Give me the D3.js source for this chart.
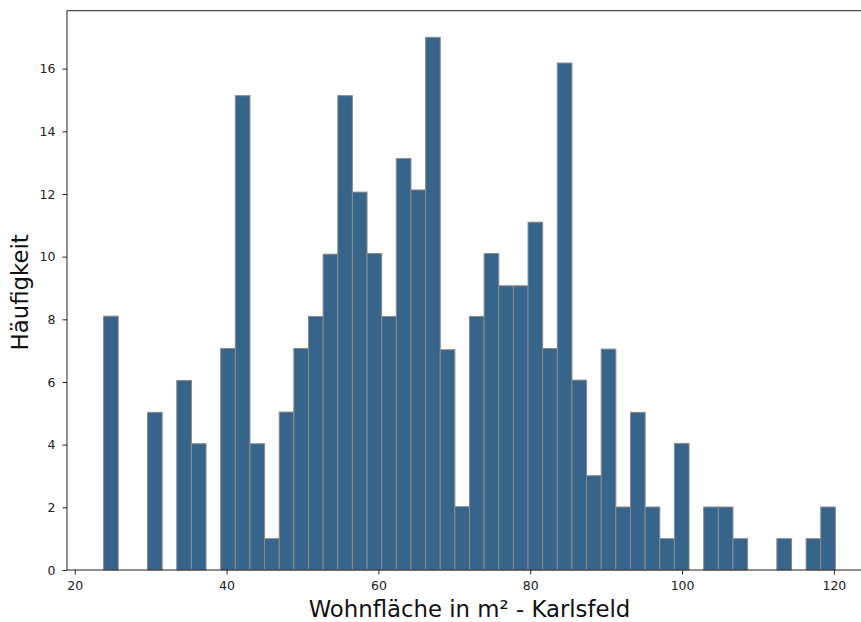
<!DOCTYPE html>
<html>
<head>
<meta charset="utf-8">
<script src="https://cdn.jsdelivr.net/npm/d3@7"></script>
<style>
  html, body { margin: 0; padding: 0; background: #fff; }
  svg { display: block; font-family: "DejaVu Sans", sans-serif; }
</style>
</head>
<body>
<svg id="chart" width="861" height="622"></svg>
<script>
// Histogram of living area (m²) in Karlsfeld: 50 equal-width bins
const binStart = 23.8;
const binEnd = 120.2;
const counts = [
  8.1, 0, 0, 5.03, 0, 6.05, 4.03, 0, 7.07, 15.14,
  4.03, 1, 5.04, 7.07, 8.09, 10.08, 15.14, 12.06, 10.1, 8.09,
  13.13, 12.13, 17, 7.03, 2.02, 8.09, 10.1, 9.07, 9.07, 11.1,
  7.07, 16.18, 6.06, 3.01, 7.05, 2.01, 5.03, 2.01, 1, 4.04,
  0, 2.01, 2.01, 1, 0, 0, 1, 0, 1, 2.01
];
const xTicks = [20, 40, 60, 80, 100, 120];
const yTicks = [0, 2, 4, 6, 8, 10, 12, 14, 16];
const xLabel = "Wohnfläche in m² - Karlsfeld";
const yLabel = "Häufigkeit";

const nBins = counts.length;
const binW = (binEnd - binStart) / nBins;
const bins = counts.map((c, i) => ({ x0: binStart + i * binW, x1: binStart + (i + 1) * binW, n: c }));

const pad = (binEnd - binStart) * 0.05;
const plotLeft = 67, plotTop = 10.7, plotBottom = 570;
const plotRight = plotLeft + 805;

const x = d3.scaleLinear().domain([binStart - pad, binEnd + pad]).range([plotLeft, plotRight]);
const yMax = d3.max(counts) * 1.05;
const y = d3.scaleLinear().domain([0, yMax]).range([plotBottom, plotTop]);

const svg = d3.select("#chart");

svg.append("g")
  .selectAll("rect")
  .data(bins.filter(d => d.n > 0))
  .join("rect")
  .attr("x", d => x(d.x0))
  .attr("y", d => y(d.n))
  .attr("width", d => x(d.x1) - x(d.x0))
  .attr("height", d => y(0) - y(d.n))
  .attr("fill", "#36648b")
  .attr("stroke", "#8a8a8a")
  .attr("stroke-width", 1);

// frame
svg.append("rect")
  .attr("x", plotLeft).attr("y", plotTop)
  .attr("width", plotRight - plotLeft).attr("height", plotBottom - plotTop)
  .attr("fill", "none").attr("stroke", "#222").attr("stroke-width", 1);

const xAxis = svg.append("g")
  .attr("transform", `translate(0,${plotBottom})`)
  .call(d3.axisBottom(x).tickValues(xTicks).tickSize(4.5).tickPadding(7).tickFormat(d3.format("d")));
const yAxis = svg.append("g")
  .attr("transform", `translate(${plotLeft},0)`)
  .call(d3.axisLeft(y).tickValues(yTicks).tickSize(4.5).tickPadding(7).tickFormat(d3.format("d")));

[xAxis, yAxis].forEach(a => {
  a.select(".domain").remove();
  a.selectAll("line").attr("stroke", "#222");
  a.selectAll("text").attr("font-family", "DejaVu Sans").attr("font-size", 12.5).attr("fill", "#222");
});

svg.append("text")
  .attr("x", (plotLeft + plotRight) / 2)
  .attr("y", 617)
  .attr("text-anchor", "middle")
  .attr("font-size", 22.8)
  .attr("fill", "#111")
  .text(xLabel);

svg.append("text")
  .attr("transform", `translate(28,${(plotTop + plotBottom) / 2 + 2}) rotate(-90)`)
  .attr("text-anchor", "middle")
  .attr("font-size", 22.8)
  .attr("fill", "#111")
  .text(yLabel);
</script>
</body>
</html>
